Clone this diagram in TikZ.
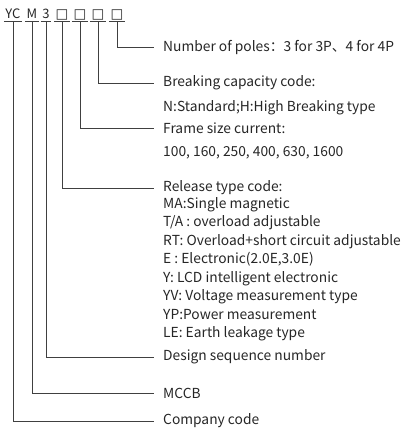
\documentclass[tikz,border=0pt]{standalone}
\usepackage{fontspec}
\setmainfont{Noto Sans CJK SC}
\newfontfamily\boxfont{DejaVu Sans}
\usepackage{tikz}
\usetikzlibrary{positioning}

\begin{document}
\begin{tikzpicture}[
    x=1pt, y=-1pt,
    every node/.style={font=\fontsize{13.8}{16}\selectfont, text=black!85, inner sep=0pt},
    codechar/.style={anchor=base, inner xsep=1.5pt, inner ysep=3pt, text depth=0pt, font=\fontsize{13}{15}\selectfont},
    desc/.style={anchor=west},
    line/.style={draw=black!75, line width=0.9pt}
]
\useasboundingbox (0,0) rectangle (404,429);

% Code letters (top)
\node[codechar] (yc) at (13,18) {YC};
\node[codechar] (m) at (32,18) {M};
\node[codechar] (three) at (46,18) {3};
\node[codechar] (boxa) at (62,18) {\boxfont\fontsize{13.5}{15}\selectfont □};
\node[codechar] (boxb) at (80,18) {\boxfont\fontsize{13.5}{15}\selectfont □};
\node[codechar] (boxc) at (98,18) {\boxfont\fontsize{13.5}{15}\selectfont □};
\node[codechar] (boxd) at (117,18) {\boxfont\fontsize{13.5}{15}\selectfont □};

% Underlines
\foreach \n in {yc, m, three, boxa, boxb, boxc, boxd}
    \draw[line] (\n.south west) -- (\n.south east);

% Descriptions
\node[desc] (poles) at (163,47) {Number of poles：3 for 3P、4 for 4P};
\node[desc] (breaking) at (163,83) {Breaking capacity code:};
\node[desc] (breakingtxt) at (163,108) {N:Standard;H:High Breaking type};
\node[desc] (frame) at (163,128) {Frame size current:};
\node[desc] (frametxt) at (163,153) {100, 160, 250, 400, 630, 1600};
\node[desc] (release) at (163,188) {Release type code:};
\node[desc, align=left, anchor=north west, font=\fontsize{13.8}{18.5}\selectfont] (releasetxt) at (163,197) {MA:Single magnetic\\
T/A : overload adjustable\\
RT: Overload+short circuit adjustable\\
E : Electronic(2.0E,3.0E)\\
Y: LCD intelligent electronic\\
YV: Voltage measurement type\\
YP:Power measurement\\
LE: Earth leakage type};
\node[desc] (design) at (163,357) {Design sequence number};
\node[desc] (mccb) at (163,393) {MCCB};
\node[desc] (company) at (163,421) {Company code};

% Connectors
\draw[line] (boxd.south) |- ([xshift=-9pt]poles.west);
\draw[line] (boxc.south) |- ([xshift=-9pt]breaking.west);
\draw[line] (boxb.south) |- ([xshift=-9pt]frame.west);
\draw[line] (boxa.south) |- ([xshift=-9pt]release.west);
\draw[line] (three.south) |- ([xshift=-9pt]design.west);
\draw[line] (m.south) |- ([xshift=-9pt]mccb.west);
\draw[line] (yc.south) |- ([xshift=-9pt]company.west);

\end{tikzpicture}
\end{document}
